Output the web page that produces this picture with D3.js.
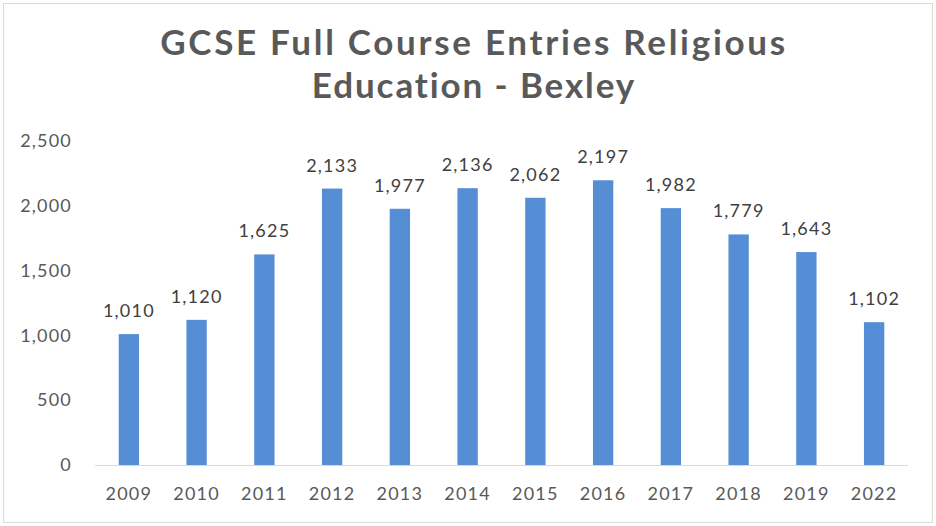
<!DOCTYPE html>
<html><head><meta charset="utf-8">
<script src="https://cdn.jsdelivr.net/npm/d3@7"></script>
<style>body{margin:0;background:#fff;}svg{display:block;font-family:"Lato","Open Sans",sans-serif;}</style>
</head><body>
<svg id="c" width="936" height="526"></svg>
<script>
const categories = ["2009","2010","2011","2012","2013","2014","2015","2016","2017","2018","2019","2022"];
const values = [1010,1120,1625,2133,1977,2136,2062,2197,1982,1779,1643,1102];
const yTicks = [0,500,1000,1500,2000,2500];
const titleLines = ["GCSE Full Course Entries Religious","Education - Bexley"];

const svg = d3.select("#c");
svg.append("rect").attr("x",3.5).attr("y",3.5).attr("width",929).attr("height",519)
  .attr("fill","#fff").attr("stroke","#d9d9d9").attr("stroke-width",1);

const x = d3.scaleBand().domain(categories).range([95,908]).paddingInner(0.7).paddingOuter(0.35);
const y = d3.scaleLinear().domain([0,2500]).range([465,141]);

// title
const titleWidths = [625, 323];
const tt = svg.append("g").selectAll("text").data(titleLines).join("text")
  .attr("x",474).attr("y",(d,i)=>55+i*43)
  .attr("text-anchor","middle").attr("font-size",35).attr("font-weight",700)
  .attr("fill","#595959").text(d=>d);
tt.each(function(d,i){
  const w = this.getComputedTextLength();
  const ls = (titleWidths[i]-w)/(d.length-1);
  d3.select(this).attr("letter-spacing", ls.toFixed(2));
});

const tickFont = 18, tickLS = 1.2;
// y axis
const ya = svg.append("g").attr("transform","translate(72,0)")
  .call(d3.axisLeft(y).tickValues(yTicks).tickSize(0).tickPadding(0).tickFormat(d3.format(",")));
ya.select(".domain").remove();
ya.selectAll("text").attr("font-size",tickFont).attr("letter-spacing",tickLS).attr("fill","#595959").attr("font-family","Lato, sans-serif");

// x axis
const xa = svg.append("g").attr("transform","translate(0,465)")
  .call(d3.axisBottom(x).tickSize(0).tickPadding(22));
xa.select(".domain").remove();
xa.selectAll("text").attr("font-size",tickFont).attr("letter-spacing",tickLS).attr("fill","#595959").attr("font-family","Lato, sans-serif");
svg.append("line").attr("x1",95).attr("x2",908).attr("y1",465.5).attr("y2",465.5)
  .attr("stroke","#d9d9d9").attr("stroke-width",1);

// bars
svg.append("g").selectAll("rect").data(categories).join("rect")
  .attr("x",d=>x(d)).attr("width",x.bandwidth())
  .attr("y",(d,i)=>y(values[i])).attr("height",(d,i)=>y(0)-y(values[i]))
  .attr("fill","#558ed5");

// labels
svg.append("g").selectAll("text").data(categories).join("text")
  .attr("x",d=>x(d)+x.bandwidth()/2).attr("y",(d,i)=>y(values[i])-17)
  .attr("text-anchor","middle").attr("font-size",tickFont).attr("letter-spacing",tickLS).attr("fill","#404040")
  .text((d,i)=>d3.format(",")(values[i]));
</script>
</body></html>
